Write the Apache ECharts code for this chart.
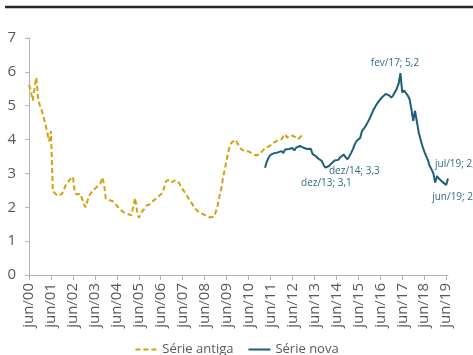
<!DOCTYPE html>
<html>
<head>
<meta charset="utf-8">
<script src="https://cdn.jsdelivr.net/npm/echarts@6/dist/echarts.min.js"></script>
<style>
html,body{margin:0;padding:0;background:#fff;}
#c{width:473px;height:355px;}
</style>
</head>
<body>
<div id="c"></div>
<script>
// Months from jun/00 to jul/19
const monthNames = ['jan','fev','mar','abr','mai','jun','jul','ago','set','out','nov','dez'];
const firstYear = 2000, firstMonth = 5, monthCount = 230;
const categories = [];
for (let i = 0; i < monthCount; i++) {
  const mi = firstMonth + i;
  const y = firstYear + Math.floor(mi / 12);
  categories.push(monthNames[mi % 12] + '/' + String(y % 100).padStart(2, '0'));
}

// Série antiga: jun/00 .. dez/12
const oldStart = 'jun/00';
const oldValues = [
  5.62,5.45,5.15,5.5,5.83,5.2,5.0,4.85,4.65,4.45,4.2,3.95,4.25,2.5,2.42,2.38,2.33,2.31,2.4,2.5,
  2.65,2.72,2.8,2.85,2.9,2.45,2.38,2.43,2.4,2.38,2.1,2.0,2.2,2.35,2.43,2.5,2.55,2.6,2.62,2.7,
  2.88,2.7,2.25,2.22,2.21,2.2,2.17,2.14,2.05,1.98,1.92,1.9,1.85,1.82,1.8,1.79,1.76,1.74,2.28,1.9,
  1.69,1.8,1.89,1.95,2.04,2.06,2.09,2.15,2.2,2.24,2.28,2.33,2.38,2.43,2.6,2.78,2.8,2.81,2.74,2.76,
  2.8,2.81,2.72,2.6,2.53,2.45,2.37,2.28,2.23,2.12,2.02,1.97,1.9,1.84,1.82,1.8,1.79,1.75,1.72,1.7,
  1.69,1.72,1.85,2.04,2.3,2.53,2.85,3.12,3.4,3.66,3.85,3.93,3.98,3.99,3.88,3.81,3.71,3.68,3.66,3.69,
  3.65,3.62,3.59,3.56,3.53,3.51,3.57,3.63,3.68,3.74,3.76,3.8,3.83,3.86,3.92,3.96,3.98,4.0,4.01,4.1,
  4.16,4.06,4.08,4.13,4.1,4.09,4.05,4.01,4.06,4.11,4.05
];

// Série nova: mar/11 .. jul/19
const newStart = 'mar/11';
const newValues = [
  3.17,3.35,3.47,3.55,3.5,3.6,3.55,3.62,3.57,3.66,3.6,3.71,3.66,3.72,3.68,3.75,3.68,3.76,3.72,3.81,
  3.78,3.76,3.79,3.72,3.76,3.73,3.57,3.55,3.5,3.44,3.42,3.37,3.25,3.17,3.2,3.22,3.28,3.32,3.38,3.42,
  3.4,3.47,3.52,3.56,3.48,3.42,3.5,3.6,3.71,3.85,3.96,4.01,4.05,4.25,4.3,4.4,4.5,4.6,4.72,4.85,
  4.95,5.04,5.12,5.19,5.25,5.29,5.35,5.39,5.3,5.24,5.3,5.29,5.5,5.65,5.96,5.39,5.45,5.49,5.3,5.19,
  4.9,4.55,4.85,4.8,4.21,4.0,3.81,3.65,3.52,3.4,3.22,3.12,3.0,2.73,2.92,2.85,2.8,2.75,2.7,2.66,
  2.85
];

// Annotations
const noteDates = ['fev/17','dez/14','dez/13','jul/19','jun/19'];
const noteTexts = ['fev/17; 5,2','dez/14; 3,3','dez/13; 3,1','jul/19; 2,8','jun/19; 2,7'];

const yTicks = [0,1,2,3,4,5,6,7];

function place(startCat, values) {
  const s = categories.indexOf(startCat);
  const out = [];
  for (let i = 0; i < categories.length; i++) {
    const k = i - s;
    out.push(k >= 0 && k < values.length ? values[k] : '-');
  }
  return out;
}
const oldData = place(oldStart, oldValues);
const newData = place(newStart, newValues);

const noteLayout = {
  'fev/17': {align:'center', offset:[0,-33]},
  'dez/14': {align:'center', offset:[7,12]},
  'dez/13': {align:'center', offset:[1,15]},
  'jul/19': {align:'left', offset:[-13,-14]},
  'jun/19': {align:'left', offset:[-14,12]}
};
const notePoints = noteDates.map((d, i) => {
  const idx = categories.indexOf(d);
  const L = noteLayout[d];
  return {
    coord: [d, newData[idx]],
    symbol: 'circle', symbolSize: 1,
    itemStyle: {color: 'rgba(0,0,0,0)'},
    label: {
      show: true, formatter: noteTexts[i], position: 'inside',
      align: L.align, verticalAlign: 'middle', offset: L.offset,
      color: '#2f6b85', fontSize: 10, fontFamily: 'Open Sans'
    }
  };
});

const gold = '#d4a011';
const teal = '#1d5e78';
const grey = '#595959';
const axisGrey = '#b4b4b4';

const chart = echarts.init(document.getElementById('c'), null, {renderer: 'canvas'});
chart.setOption({
  animation: false,
  backgroundColor: '#ffffff',
  textStyle: {fontFamily: 'Open Sans'},
  graphic: [{
    type: 'line', shape: {x1: 5, y1: 7, x2: 473, y2: 7},
    style: {stroke: '#262626', lineWidth: 2.5}
  }],
  grid: {left: 29, right: 25, top: 38, bottom: 80},
  legend: {
    top: 338, left: 'center',
    itemWidth: 22, itemHeight: 14, itemGap: 14,
    itemStyle: {color: 'rgba(0,0,0,0)', borderWidth: 0, opacity: 0},
    textStyle: {color: grey, fontSize: 13, fontFamily: 'Open Sans'},
    data: ['Série antiga', 'Série nova']
  },
  xAxis: {
    type: 'category', data: categories, boundaryGap: false,
    axisLine: {lineStyle: {color: axisGrey, width: 1}},
    axisTick: {show: true, interval: 11, length: 5, lineStyle: {color: axisGrey}},
    axisLabel: {interval: 11, rotate: 90, margin: 8, color: grey, fontSize: 15, fontFamily: 'Open Sans'},
    splitLine: {show: false}
  },
  yAxis: {
    type: 'value', min: yTicks[0], max: yTicks[yTicks.length - 1], interval: 1,
    axisLine: {show: true, lineStyle: {color: axisGrey, width: 1}},
    axisTick: {show: true, length: 4, lineStyle: {color: axisGrey}},
    axisLabel: {margin: 13, color: grey, fontSize: 15, fontFamily: 'Open Sans'},
    splitLine: {show: false}
  },
  series: [
    {
      name: 'Série antiga', type: 'line', data: oldData,
      symbol: 'none', connectNulls: false,
      lineStyle: {color: gold, width: 2, type: [5, 3]},
      itemStyle: {color: gold}
    },
    {
      name: 'Série nova', type: 'line', data: newData,
      symbol: 'none', connectNulls: false,
      lineStyle: {color: teal, width: 2},
      itemStyle: {color: teal},
      markPoint: {data: notePoints, silent: true}
    }
  ]
});
</script>
</body>
</html>
